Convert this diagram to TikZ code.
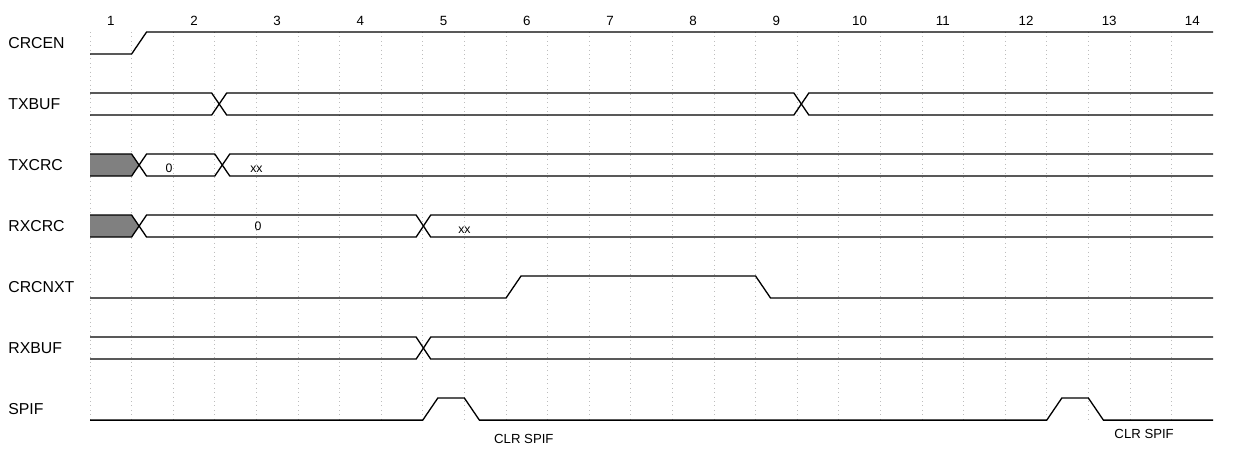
\documentclass[tikz,border=0pt]{standalone}
\usepackage{fontspec}
\setmainfont{Liberation Sans}
\usepackage{xcolor}
\usepackage{tikz}
\usetikzlibrary{calc,positioning}
\definecolor{GridGray}{HTML}{BDBDBD}
\definecolor{StateGray}{HTML}{808080}
\tikzset{
  wave/.style={black,line width=0.75pt,line join=miter},
  gridline/.style={GridGray,dotted,line width=0.5pt},
  siglabel/.style={anchor=west,inner sep=0pt,font=\fontsize{9}{10}\selectfont},
  cyclenum/.style={inner sep=0pt,font=\fontsize{7.6}{9}\selectfont},
  busval/.style={inner sep=0pt,font=\fontsize{7}{8}\selectfont},
  clrnote/.style={inner sep=0pt,font=\fontsize{7.5}{9}\selectfont},
}

\begin{document}
\begin{tikzpicture}[x=0.832cm,y=-0.02cm]
  \useasboundingbox (-2.1635,0) rectangle (28.005,454);

  % Grid
  \foreach \k in {0,...,26} {
    \draw[gridline] (\k,32) -- (\k,420);
  }

  % Cycle numbers
  \foreach \n in {1,...,14} {
    \node[cyclenum] (num\n) at ({2*\n-1.5},21) {\n};
  }

  % Signal names
  \foreach \name/\y in {CRCEN/43,TXBUF/104,TXCRC/165,RXCRC/226,CRCNXT/287,RXBUF/348,SPIF/409} {
    \node[siglabel] (lbl\name) at (-1.97,\y) {\name};
  }

  % CRCEN
  \draw[wave] (0,54) -- (1,54) -- (1.36,32) -- (27,32);

  % TXBUF
  \draw[wave] (0,93) -- (2.925,93) -- (3.286,115) -- (16.92,115) -- (17.28,93) -- (27,93);
  \draw[wave] (0,115) -- (2.925,115) -- (3.286,93) -- (16.92,93) -- (17.28,115) -- (27,115);

  % TXCRC
  \fill[StateGray] (0,154) -- (1,154) -- (1.18,165) -- (1,176) -- (0,176) -- cycle;
  \draw[wave] (0,154) -- (1,154) -- (1.36,176) -- (3,176) -- (3.36,154) -- (27,154);
  \draw[wave] (0,176) -- (1,176) -- (1.36,154) -- (3,154) -- (3.36,176) -- (27,176);
  \node[busval] (txcrc0) at (1.9,168) {0};
  \node[busval] (txcrcx) at (4.0,169) {xx};

  % RXCRC
  \fill[StateGray] (0,215) -- (1,215) -- (1.18,226) -- (1,237) -- (0,237) -- cycle;
  \draw[wave] (0,215) -- (1,215) -- (1.36,237) -- (7.84,237) -- (8.19,215) -- (27,215);
  \draw[wave] (0,237) -- (1,237) -- (1.36,215) -- (7.84,215) -- (8.19,237) -- (27,237);
  \node[busval] (rxcrc0) at (4.04,226) {0};
  \node[busval] (rxcrcx) at (9.0,230) {xx};

  % CRCNXT
  \draw[wave] (0,298) -- (10,298) -- (10.36,276) -- (16,276) -- (16.36,298) -- (27,298);

  % RXBUF
  \draw[wave] (0,337) -- (7.84,337) -- (8.19,359) -- (27,359);
  \draw[wave] (0,359) -- (7.84,359) -- (8.19,337) -- (27,337);

  % SPIF
  \draw[wave] (0,420) -- (8,420) -- (8.36,398) -- (9,398) -- (9.36,420)
    -- (23,420) -- (23.36,398) -- (24,398) -- (24.36,420) -- (27,420);
  \node[clrnote] (clr1) at (10.43,439) {CLR SPIF};
  \node[clrnote] (clr2) at (25.34,434) {CLR SPIF};
\end{tikzpicture}
\end{document}
